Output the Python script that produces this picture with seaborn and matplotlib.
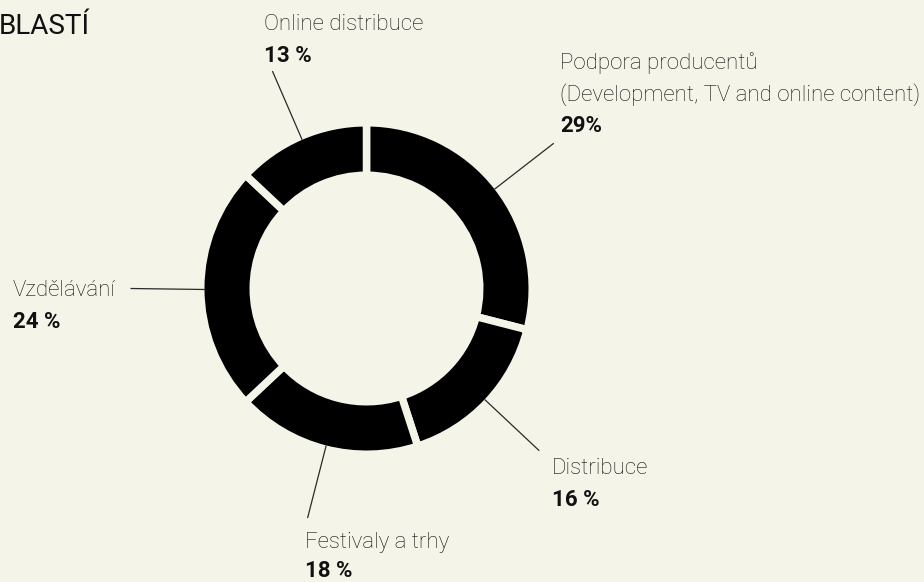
import numpy as np
import matplotlib.pyplot as plt
import seaborn as sns

# Data
categories = ["Podpora producentů\n(Development, TV and online content)",
              "Distribuce", "Festivaly a trhy", "Vzdělávání", "Online distribuce"]
shares = [29, 16, 18, 24, 13]
share_labels = ["29%", "16 %", "18 %", "24 %", "13 %"]
title = "BLASTÍ"

W, H = 924, 582
bg = "#f4f4e8"
ink = "#111111"

sns.set_theme(style="white")
plt.rcParams["font.family"] = ["Roboto", "DejaVu Sans"]

fig = plt.figure(figsize=(W / 100, H / 100), dpi=100, facecolor=bg)
ax = fig.add_axes([0, 0, 1, 1])
ax.set_facecolor(bg)

# ring geometry in pixels (y measured from top, flipped below)
cx, cy = 366.5, H - 288.5
R, ring = 162, 45
gap = 7.5  # px, drawn as wedge edge in background colour
lw_pt = gap * 72 / 100

wedges, _ = ax.pie(shares, startangle=90, counterclock=False, center=(cx, cy),
                   radius=R + gap / 2, colors=["black"] * len(shares),
                   wedgeprops=dict(width=ring + gap, edgecolor=bg, linewidth=lw_pt))

ax.set_xlim(0, W)
ax.set_ylim(0, H)
ax.set_aspect("equal")
ax.axis("off")

# leader lines, radial from the middle of each wedge
lead = 75
for w in wedges:
    a = np.deg2rad((w.theta1 + w.theta2) / 2)
    ax.plot([cx + R * np.cos(a), cx + (R + lead) * np.cos(a)],
            [cy + R * np.sin(a), cy + (R + lead) * np.sin(a)],
            color="#2a2a2a", lw=0.9, solid_capstyle="butt")

# label anchors: left x, first baseline (from top)
anchors = [(560, 69), (552, 474), (305, 548), (13, 296), (264, 30)]
step = 31.5
for cat, pct, (x, y) in zip(categories, share_labels, anchors):
    lines = cat.split("\n")
    for i, line in enumerate(lines):
        ax.text(x, H - (y + i * step), line, fontsize=16, fontweight="light",
                color=ink, ha="left", va="baseline")
    ax.text(x, H - min(y + len(lines) * step, 577), pct, fontsize=16,
            fontweight="bold", color=ink, ha="left", va="baseline")

ax.text(-1, H - 34, title, fontsize=20, color=ink, ha="left", va="baseline")

fig.savefig("out.png", dpi=100, facecolor=bg)
